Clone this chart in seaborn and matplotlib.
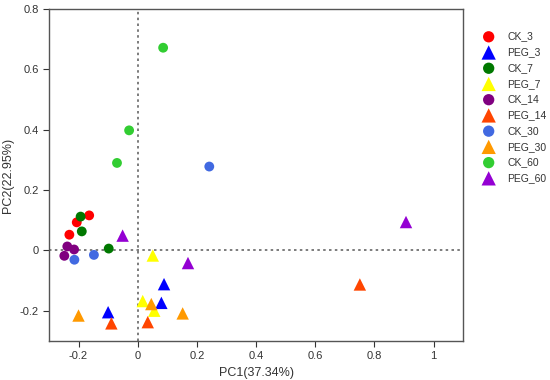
import numpy as np
import pandas as pd
import seaborn as sns
import matplotlib.pyplot as plt

groups = ['CK_3', 'PEG_3', 'CK_7', 'PEG_7', 'CK_14', 'PEG_14', 'CK_30', 'PEG_30', 'CK_60', 'PEG_60']
colors = ['#FF0000', '#0000FF', '#007800', '#FFFF00', '#800080', '#FF4500', '#4169E1', '#FF9900', '#32CD32', '#9400D3']

pc1 = {
    'CK_3': [-0.164, -0.206, -0.231],
    'PEG_3': [0.089, 0.080, -0.100],
    'CK_7': [-0.193, -0.189, -0.098],
    'PEG_7': [0.051, 0.017, 0.056],
    'CK_14': [-0.238, -0.215, -0.248],
    'PEG_14': [-0.089, 0.034, 0.751],
    'CK_30': [-0.214, -0.148, 0.242],
    'PEG_30': [-0.200, 0.046, 0.152],
    'CK_60': [0.086, -0.029, -0.070],
    'PEG_60': [-0.051, 0.170, 0.907],
}
pc2 = {
    'CK_3': [0.116, 0.093, 0.052],
    'PEG_3': [-0.112, -0.174, -0.205],
    'CK_7': [0.112, 0.063, 0.006],
    'PEG_7': [-0.017, -0.168, -0.200],
    'CK_14': [0.013, 0.003, -0.018],
    'PEG_14': [-0.242, -0.238, -0.113],
    'CK_30': [-0.031, -0.015, 0.278],
    'PEG_30': [-0.216, -0.178, -0.209],
    'CK_60': [0.672, 0.398, 0.290],
    'PEG_60': [0.049, -0.042, 0.094],
}

rows = []
for g in groups:
    for a, b in zip(pc1[g], pc2[g]):
        rows.append({'group': g, 'PC1': a, 'PC2': b})
df = pd.DataFrame(rows)

sns.set_style('ticks')
plt.rcParams['font.family'] = ['Liberation Sans', 'DejaVu Sans']

fig = plt.figure(figsize=(5.5, 3.8), dpi=100)
ax = fig.add_axes([0.089, 0.103, 0.753, 0.873])

# dotted cross through the origin
ax.axvline(0, color='#666666', linestyle=(0, (1.5, 2)), linewidth=1.2, zorder=1)
ax.axhline(0, color='#666666', linestyle=(0, (1.5, 2)), linewidth=1.2, zorder=1)

for g, c in zip(groups, colors):
    sub = df[df['group'] == g]
    if g.startswith('CK'):
        sns.scatterplot(data=sub, x='PC1', y='PC2', color=c, marker='o', s=50,
                        edgecolor='none', label=g, ax=ax, zorder=3)
    else:
        sns.scatterplot(data=sub, x='PC1', y='PC2', color=c, marker='^', s=80,
                        edgecolor='none', label=g, ax=ax, zorder=3)

ax.set_xlim(-0.3, 1.1)
ax.set_ylim(-0.3, 0.8)
ax.set_xticks([-0.2, 0, 0.2, 0.4, 0.6, 0.8, 1])
ax.set_xticklabels(['-0.2', '0', '0.2', '0.4', '0.6', '0.8', '1'])
ax.set_yticks([-0.2, 0, 0.2, 0.4, 0.6, 0.8])
ax.set_yticklabels(['-0.2', '0', '0.2', '0.4', '0.6', '0.8'])
ax.tick_params(labelsize=8, colors='#333333', length=4)
for sp in ax.spines.values():
    sp.set_color('#555555')
    sp.set_linewidth(1.0)
ax.set_xlabel('PC1(37.34%)', fontsize=9, color='#333333')
ax.set_ylabel('PC2(22.95%)', fontsize=9, color='#333333')

ax.legend(loc='upper left', bbox_to_anchor=(0.862, 0.928), bbox_transform=fig.transFigure,
          frameon=False, fontsize=7.5, handletextpad=0.8, labelspacing=0.55,
          markerscale=1.15, borderaxespad=0, labelcolor='#333333')

fig.savefig('out.png', dpi=100)
